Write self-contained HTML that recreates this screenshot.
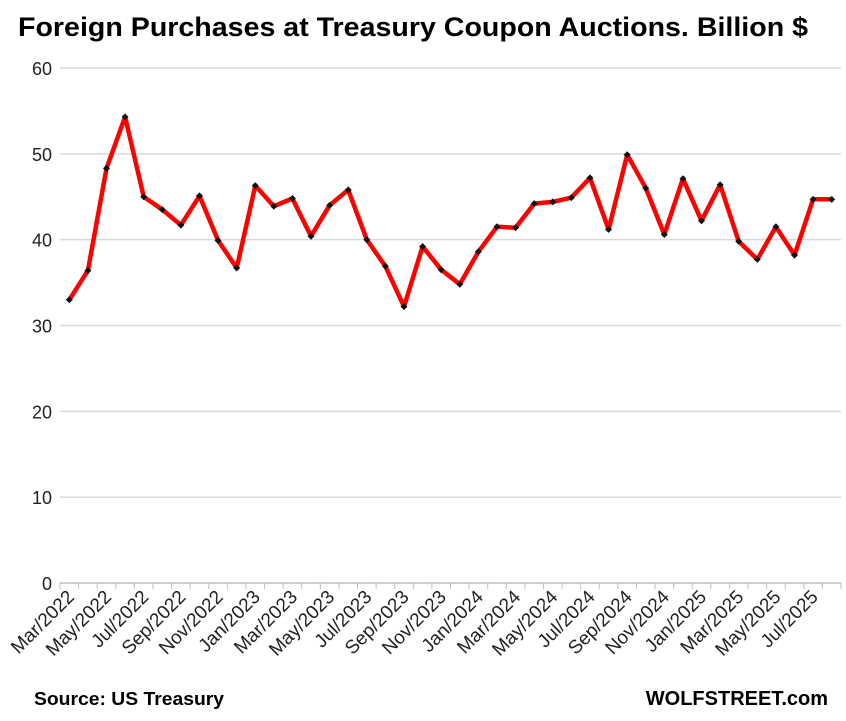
<!DOCTYPE html>
<html><head><meta charset="utf-8"><style>
body{margin:0;background:#fff;font-family:"Liberation Sans",Arial,sans-serif}
svg{display:block}
</style></head><body>
<svg id="chart" width="846" height="721" xmlns="http://www.w3.org/2000/svg">
<text x="18" y="36" font-size="27" font-weight="bold" fill="#000" textLength="790" lengthAdjust="spacingAndGlyphs">Foreign Purchases at Treasury Coupon Auctions. Billion $</text>
<g id="grid"></g><g id="xaxis"></g><g id="series"></g>
<text x="34" y="705" font-size="18" font-weight="bold" textLength="190" lengthAdjust="spacingAndGlyphs">Source: US Treasury</text>
<text x="828" y="705" font-size="20" font-weight="bold" text-anchor="end">WOLFSTREET.com</text>
</svg>
<script>
const months=["Mar/2022","Apr/2022","May/2022","Jun/2022","Jul/2022","Aug/2022","Sep/2022","Oct/2022","Nov/2022","Dec/2022","Jan/2023","Feb/2023","Mar/2023","Apr/2023","May/2023","Jun/2023","Jul/2023","Aug/2023","Sep/2023","Oct/2023","Nov/2023","Dec/2023","Jan/2024","Feb/2024","Mar/2024","Apr/2024","May/2024","Jun/2024","Jul/2024","Aug/2024","Sep/2024","Oct/2024","Nov/2024","Dec/2024","Jan/2025","Feb/2025","Mar/2025","Apr/2025","May/2025","Jun/2025","Jul/2025","Aug/2025"];
const values=[33.0,36.4,48.3,54.3,45.0,43.5,41.7,45.1,39.9,36.7,46.3,43.9,44.8,40.4,44.0,45.8,40.0,36.9,32.2,39.2,36.5,34.8,38.6,41.5,41.4,44.2,44.4,44.9,47.2,41.2,49.9,46.0,40.6,47.1,42.2,46.4,39.8,37.7,41.5,38.2,44.7,44.7];
const yTicks=[0,10,20,30,40,50,60];
const L=60,R=841,T=68,B=583,ymax=60;
const ns="http://www.w3.org/2000/svg";
const step=(R-L)/months.length;
const xs=i=>L+step*(i+0.5);
const ys=v=>B-(v/ymax)*(B-T);
function mk(tag,attrs,parent,text){const e=document.createElementNS(ns,tag);for(const k in attrs)e.setAttribute(k,attrs[k]);if(text!==undefined)e.textContent=text;document.getElementById(parent).appendChild(e);return e;}
yTicks.forEach(t=>{
  if(t>0){const g=mk('line',{x1:L,x2:R,y1:ys(t),y2:ys(t),stroke:'#d9d9d9','stroke-width':1.5},'grid');
  
  }
  const lb=mk('text',{x:L-8,y:ys(t)+7,'text-anchor':'end','font-size':18,fill:'#222'},'grid',t);
  
  
});
const ax=mk('line',{x1:L,x2:R,y1:B,y2:B,stroke:'#bfbfbf','stroke-width':1.5},'xaxis');


for(let i=0;i<=months.length;i++){
  const tk=mk('line',{x1:L+step*i,x2:L+step*i,y1:B,y2:B+6,stroke:'#bfbfbf','stroke-width':1},'xaxis');
  
  
}
months.forEach((m,i)=>{
  if(i%2)return;
  const x=xs(i)+6,y=B+15;
  const t=mk('text',{x:x,y:y,'text-anchor':'end','font-size':19,fill:'#222',transform:`rotate(-45 ${x} ${y})`},'xaxis',m);
  
  
});
const pts=values.map((v,i)=>xs(i).toFixed(1)+','+ys(v).toFixed(1)).join(' ');
const line=mk('polyline',{points:pts,fill:'none',stroke:'#ff0000','stroke-width':4.5,'stroke-linejoin':'round'},'series');


values.forEach((v,i)=>{
  const x=xs(i),y=ys(v);
  const d=mk('polygon',{points:`${x},${y-3.5} ${x+3.5},${y} ${x},${y+3.5} ${x-3.5},${y}`,fill:'#111'},'series');
  
  
});
</script>
</body></html>
